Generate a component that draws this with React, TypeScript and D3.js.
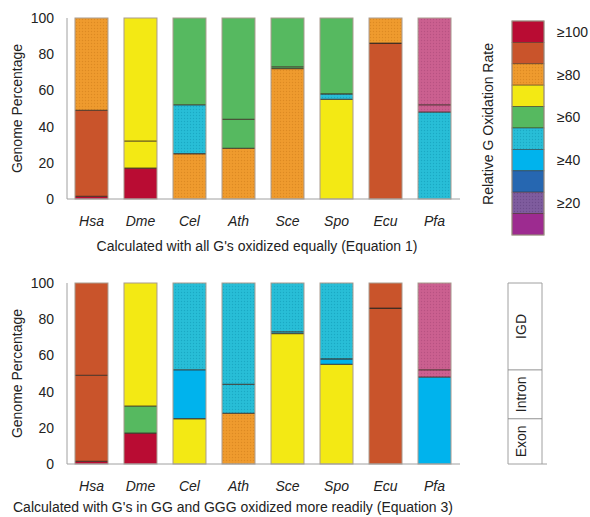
import React from 'react';
import * as d3 from 'd3';

// species and genome region sizes (cumulative % from the bottom)
const species = ['Hsa', 'Dme', 'Cel', 'Ath', 'Sce', 'Spo', 'Ecu', 'Pfa'];
const exonTop = [1.5, 17, 25, 28, 72, 55, 86, 48];
const intronTop = [49, 32, 52, 44, 73, 58, 86, 52];

// colour of each region, equation 1 (top) and equation 3 (bottom)
const eq1Exon = ['crimson', 'crimson', 'orange', 'orange', 'orange', 'yellow', 'rust', 'cyan'];
const eq1Intron = ['rust', 'yellow', 'cyan', 'green', 'green', 'cyan', 'rust', 'pink'];
const eq1Igd = ['orange', 'yellow', 'green', 'green', 'green', 'green', 'orange', 'pink'];
const eq3Exon = ['crimson', 'crimson', 'yellow', 'orange', 'yellow', 'yellow', 'rust', 'sky'];
const eq3Intron = ['rust', 'green', 'sky', 'cyan', 'cyan', 'sky', 'rust', 'pink'];
const eq3Igd = ['rust', 'yellow', 'cyan', 'cyan', 'cyan', 'cyan', 'rust', 'pink'];

const legendKeys = ['crimson', 'rust', 'orange', 'yellow', 'green', 'cyan', 'sky', 'blue', 'purple', 'magenta'];
const legendLabels = ['≥100', '', '≥80', '', '≥60', '', '≥40', '', '≥20', ''];
const yTicks = [0, 20, 40, 60, 80, 100];
const regionLabels = ['Exon', 'Intron', 'IGD'];

const colors: Record<string, string> = {
  crimson: '#b90c33',
  rust: '#c9542b',
  orange: '#ef9b2e',
  yellow: '#f3e914',
  green: '#56b960',
  cyan: '#28bed7',
  sky: '#00b3ed',
  blue: '#2667b1',
  purple: '#7f5c9e',
  magenta: '#9d2b90',
  pink: '#cb6090',
};
const dotted: Record<string, string> = {
  orange: '#dd8a22',
  cyan: '#1aa9c4',
  purple: '#6e4c8d',
  pink: '#b85282',
};

const fill = (k: string) => (dotted[k] ? `url(#dot-${k})` : colors[k]);

const font = 'Liberation Sans, Arial, sans-serif';

const x = d3.scaleBand<string>().domain(species).range([67, 459]).paddingInner(0.327).paddingOuter(0.163);

type PanelProps = { top: number; exon: string[]; intron: string[]; igd: string[]; title: string; titleX: number; titleY: number };

const Panel = ({ top, exon, intron, igd, title, titleX, titleY }: PanelProps) => {
  const y = d3.scaleLinear().domain([0, 100]).range([top + 181, top]);
  const bw = x.bandwidth();
  return (
    <g>
      {species.map((s, i) => {
        const x0 = x(s)!;
        const segs = [
          { lo: 0, hi: exonTop[i], c: exon[i] },
          { lo: exonTop[i], hi: intronTop[i], c: intron[i] },
          { lo: intronTop[i], hi: 100, c: igd[i] },
        ];
        return (
          <g key={s}>
            {segs.map((g, j) => g.hi > g.lo && (
              <rect key={j} x={x0} y={y(g.hi)} width={bw} height={y(g.lo) - y(g.hi)} fill={fill(g.c)} />
            ))}
            {[exonTop[i], intronTop[i]].map((v, j) => (
              <line key={'b' + j} x1={x0} x2={x0 + bw} y1={y(v)} y2={y(v)} stroke="#3a2a20" strokeOpacity={0.75} strokeWidth={1.3} />
            ))}
            <rect x={x0} y={y(100)} width={bw} height={y(0) - y(100)} fill="none" stroke="#a99b8e" strokeWidth={1} />
            <text x={x0 + bw / 2} y={y(0) + 27} textAnchor="middle" fontStyle="italic" fontSize={14} fontFamily={font} fill="#222">{s}</text>
          </g>
        );
      })}
      <line x1={67} x2={67} y1={y(100)} y2={y(0)} stroke="#a0a0a0" />
      <line x1={67} x2={460} y1={y(0)} y2={y(0)} stroke="#a0a0a0" />
      {yTicks.map(t => (
        <text key={t} x={54} y={y(t) + 5} textAnchor="end" fontSize={14} fontFamily={font} fill="#222">{t}</text>
      ))}
      <text transform={`translate(22,${(y(0) + y(100)) / 2}) rotate(-90)`} textAnchor="middle" fontSize={14} fontFamily={font} fill="#222">Genome Percentage</text>
      <text x={titleX} y={titleY} textAnchor="middle" fontSize={14} fontFamily={font} fill="#222">{title}</text>
    </g>
  );
};

const App = () => {
  const leg = d3.scaleBand<string>().domain(legendKeys).range([21, 235]);
  const ry = d3.scaleLinear().domain([0, 100]).range([464, 283]);
  const cel = species.indexOf('Cel');
  const regionBounds = [0, exonTop[cel], intronTop[cel], 100];
  return (
    <svg width={590} height={517} style={{ display: 'block', position: 'absolute', left: 0, top: 0 }}>
      <defs>
        {Object.keys(dotted).map(k => (
          <pattern key={k} id={`dot-${k}`} width={3} height={3} patternUnits="userSpaceOnUse">
            <rect width={3} height={3} fill={colors[k]} />
            <circle cx={1.5} cy={1.5} r={0.7} fill={dotted[k]} />
          </pattern>
        ))}
      </defs>
      <rect width={590} height={517} fill="#fff" />
      <Panel top={18} exon={eq1Exon} intron={eq1Intron} igd={eq1Igd} titleX={257} titleY={251} title="Calculated with all G's oxidized equally (Equation 1)" />
      <Panel top={283} exon={eq3Exon} intron={eq3Intron} igd={eq3Igd} titleX={233} titleY={512} title="Calculated with G's in GG and GGG oxidized more readily (Equation 3)" />

      {/* colour legend */}
      {legendKeys.map((k, i) => (
        <g key={k}>
          <rect x={512} y={leg(k)!} width={32} height={leg.bandwidth()} fill={fill(k)} stroke="#3a2a20" strokeOpacity={0.6} strokeWidth={0.8} />
          {legendLabels[i] && (
            <text x={557} y={leg(k)! + leg.bandwidth() / 2 + 5} fontSize={14} fontFamily={font} fill="#222">{legendLabels[i]}</text>
          )}
        </g>
      ))}
      <rect x={512} y={21} width={32} height={214} fill="none" stroke="#a99b8e" />
      <text transform="translate(493,124) rotate(-90)" textAnchor="middle" fontSize={14} fontFamily={font} fill="#222">Relative G Oxidation Rate</text>

      {/* region key */}
      <line x1={508} x2={508} y1={ry(100)} y2={ry(0)} stroke="#a0a0a0" />
      <line x1={542} x2={542} y1={ry(100)} y2={ry(0)} stroke="#a0a0a0" />
      <line x1={508} x2={542} y1={ry(100)} y2={ry(100)} stroke="#a0a0a0" />
      <line x1={508} x2={547} y1={ry(0)} y2={ry(0)} stroke="#a0a0a0" />
      {regionBounds.slice(1, 3).map(v => (
        <line key={v} x1={508} x2={542} y1={ry(v)} y2={ry(v)} stroke="#909090" />
      ))}
      {regionLabels.map((l, i) => (
        <text key={l} transform={`translate(526,${(ry(regionBounds[i]) + ry(regionBounds[i + 1])) / 2}) rotate(-90)`} textAnchor="middle" fontSize={14} fontFamily={font} fill="#222">{l}</text>
      ))}
    </svg>
  );
};

export default App;
